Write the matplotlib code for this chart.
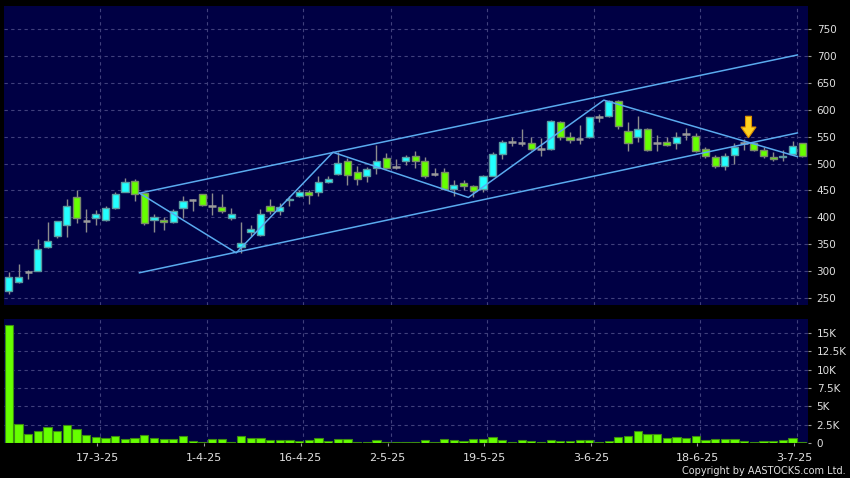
import matplotlib
matplotlib.use('Agg')
import matplotlib.pyplot as plt
import numpy as np
from matplotlib.patches import Polygon
from matplotlib.ticker import FuncFormatter

# daily OHLC, 3-3-25 .. 3-7-25 (83 trading days)
opens = [263, 280, 299, 301, 344, 366, 386, 437, 394, 398, 395, 417, 448, 468, 445, 396, 396, 392, 417, 432,
         443, 421, 420, 398, 344, 372, 368, 422, 412, 432, 440, 448, 447, 465, 480, 505, 485, 477, 491, 511,
         493, 504, 515, 505, 481, 484, 452, 463, 459, 453, 477, 518, 541, 538, 538, 528, 527, 578, 550, 546,
         549, 587, 588, 616, 561, 550, 564, 539, 541, 538, 555, 552, 528, 513, 495, 516, 538, 538, 526, 513,
         512, 518, 538]
highs = [299, 313, 303, 359, 392, 394, 435, 450, 415, 414, 422, 447, 473, 471, 446, 407, 400, 415, 440, 435,
         444, 446, 443, 417, 391, 385, 415, 434, 427, 440, 451, 451, 477, 477, 521, 510, 496, 494, 535, 519,
         508, 516, 524, 513, 491, 491, 469, 469, 461, 479, 522, 544, 550, 564, 550, 548, 581, 580, 559, 572,
         587, 593, 618, 618, 577, 589, 567, 553, 550, 558, 567, 556, 530, 516, 519, 538, 545, 541, 530, 522,
         525, 542, 539]
lows = [257, 278, 285, 300, 343, 362, 364, 389, 373, 386, 394, 416, 447, 431, 386, 373, 376, 390, 398, 412,
        421, 404, 409, 395, 334, 365, 366, 407, 404, 421, 438, 425, 440, 464, 478, 461, 460, 465, 481, 490,
        490, 497, 491, 474, 477, 452, 440, 451, 438, 448, 476, 508, 533, 533, 525, 514, 526, 544, 539, 536,
        548, 577, 587, 564, 524, 541, 523, 523, 533, 527, 543, 522, 510, 491, 488, 499, 525, 524, 510, 505,
        505, 516, 513]
closes = [290, 290, 299, 342, 356, 394, 422, 398, 394, 407, 417, 443, 465, 443, 389, 401, 392, 411, 431, 432,
          423, 421, 412, 406, 352, 379, 406, 412, 420, 435, 448, 442, 466, 471, 502, 478, 471, 489, 504, 491,
          493, 512, 505, 476, 481, 452, 461, 459, 449, 477, 518, 540, 541, 538, 527, 528, 580, 549, 544, 546,
          586, 587, 617, 570, 538, 564, 525, 539, 535, 550, 555, 524, 514, 495, 515, 531, 538, 526, 514, 508,
          515, 533, 515]
volumes_k = [16.1, 2.6, 1.2, 1.7, 2.2, 1.7, 2.4, 1.9, 1.1, 0.8, 0.7, 0.9, 0.6, 0.7, 1.1, 0.7, 0.5, 0.5, 1.0, 0.3,
             0.2, 0.6, 0.5, 0.2, 1.0, 0.7, 0.7, 0.45, 0.35, 0.35, 0.3, 0.35, 0.7, 0.3, 0.55, 0.55, 0.2, 0.2, 0.4, 0.2,
             0.2, 0.15, 0.2, 0.45, 0.15, 0.6, 0.45, 0.3, 0.5, 0.5, 0.8, 0.35, 0.15, 0.4, 0.3, 0.15, 0.45, 0.3, 0.3, 0.4,
             0.4, 0.15, 0.3, 0.85, 0.95, 1.6, 1.2, 1.2, 0.7, 0.8, 0.65, 0.95, 0.45, 0.6, 0.55, 0.5, 0.3, 0.2, 0.3, 0.3,
             0.45, 0.65, 0.2]

date_labels = ['17-3-25', '1-4-25', '16-4-25', '2-5-25', '19-5-25', '3-6-25', '18-6-25', '3-7-25']
date_idx = [10, 21, 31, 40, 50, 61, 72, 82]

# drawn trend lines
channel_x = [13.5, 81.5]
channel_upper = [445, 702]
channel_lower = [297, 557]
zigzag_x = [13.5, 23.5, 33.5, 47.5, 61.5, 81.5]
zigzag_y = [445, 334, 521, 437, 618, 513]
arrow_idx = 76.45
arrow_tip, arrow_neck, arrow_top = 548, 568, 588

bg = '#000044'
gridc = '#40407c'
txt = '#e0e0e0'

o = np.array(opens)
h = np.array(highs)
l = np.array(lows)
c = np.array(closes)
x = np.arange(len(o))
up = c > o
dn = c < o
flat = c == o

fig = plt.figure(figsize=(8.5, 4.78), dpi=100, facecolor='black')
ax = fig.add_axes([0.0047, 0.3619, 0.9459, 0.6255], facecolor=bg)
axv = fig.add_axes([0.0047, 0.0732, 0.9459, 0.2594], facecolor=bg, sharex=ax)

# candles
ax.vlines(x, l, h, color='#8c8c8c', lw=1, zorder=3)
ax.bar(x[up], (c - o)[up], bottom=o[up], width=0.74, color='#22ffff', edgecolor='#5a9aa0', lw=1, zorder=4)
ax.bar(x[dn], (o - c)[dn], bottom=c[dn], width=0.74, color='#66ff00', edgecolor='#7a8a6a', lw=1, zorder=4)
ax.hlines(o[flat], x[flat] - 0.38, x[flat] + 0.38, color='#9a9a9a', lw=1.8, zorder=4)

# trend lines
lc = '#5aaaee'
ax.plot(channel_x, channel_upper, color=lc, lw=1.1, zorder=5)
ax.plot(channel_x, channel_lower, color=lc, lw=1.1, zorder=5)
ax.plot(zigzag_x, zigzag_y, color=lc, lw=1.1, zorder=5)

# marker arrow
sw, hw = 0.31, 0.78
arrow = Polygon([(arrow_idx - sw, arrow_top), (arrow_idx + sw, arrow_top), (arrow_idx + sw, arrow_neck),
                 (arrow_idx + hw, arrow_neck), (arrow_idx, arrow_tip), (arrow_idx - hw, arrow_neck),
                 (arrow_idx - sw, arrow_neck)], closed=True, fc='#ffd21f', ec='#d98c00', lw=0.8, zorder=6)
ax.add_patch(arrow)

# volume
axv.bar(x, np.array(volumes_k) * 1000, width=0.85, color='#66ff00', edgecolor='#3c8c10', lw=0.8, zorder=3)

ax.set_xlim(-0.5, 82.6)
ax.set_ylim(237, 793)
axv.set_ylim(0, 16900)

for a in (ax, axv):
    for s in a.spines.values():
        s.set_visible(False)
    a.yaxis.tick_right()
    a.grid(True, axis='y', color=gridc, lw=0.8, ls=(0, (3, 3)), zorder=0)
    a.grid(True, axis='x', which='minor', color=gridc, lw=0.8, ls=(0, (3, 3)), zorder=0)
    a.tick_params(axis='y', labelcolor=txt, labelsize=7.5, length=2.2, color='#999999', pad=4)

ax.set_yticks(range(250, 751, 50))
axv.set_yticks(np.arange(0, 15001, 2500))
axv.yaxis.set_major_formatter(FuncFormatter(lambda v, p: '0' if v == 0 else ('%gK' % (v / 1000))))

axv.set_xticks(np.array(date_idx) - 0.85)
axv.set_xticklabels(date_labels)
axv.set_xticks(np.array(date_idx) - 0.55, minor=True)
axv.tick_params(axis='x', which='major', labelcolor=txt, labelsize=8, length=2.5, color='#999999', pad=4.5)
axv.tick_params(axis='x', which='minor', length=0)
ax.tick_params(axis='x', which='both', length=0, labelbottom=False)

fig.text(0.9953, 0.0136, 'Copyright by AASTOCKS.com Ltd.', color=txt, fontsize=7, ha='right', va='center')

fig.savefig('out.png', dpi=100, facecolor='black')
